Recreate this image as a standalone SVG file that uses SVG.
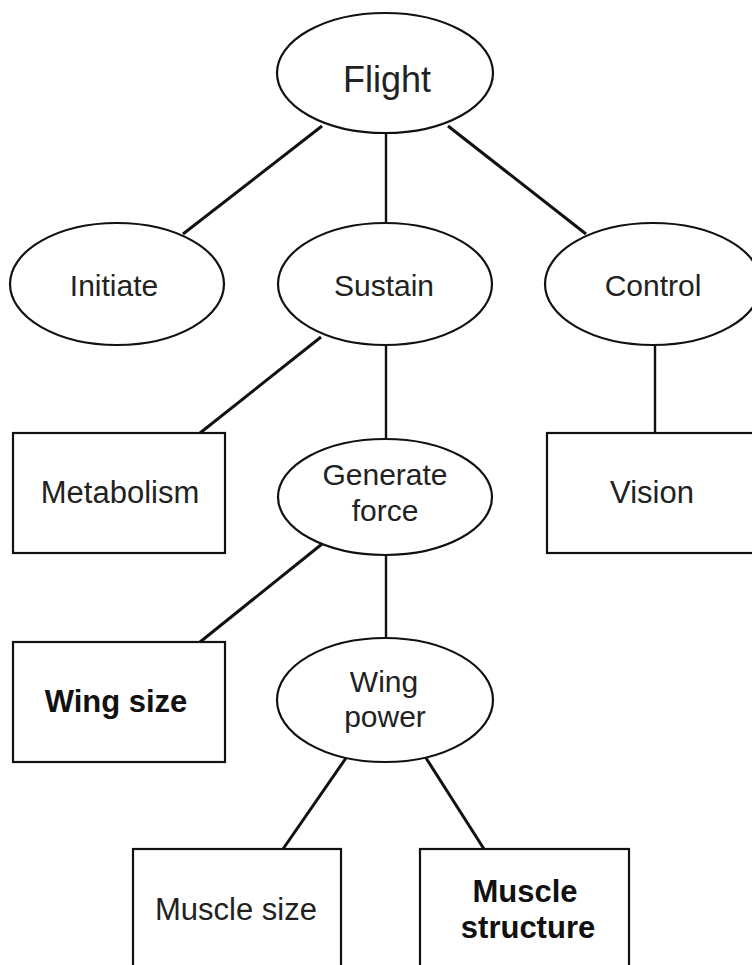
<svg xmlns="http://www.w3.org/2000/svg" width="752" height="965" viewBox="0 0 752 965">
<style>
.n{fill:#fff;stroke:#111;stroke-width:2.2}
.t{font-family:"Liberation Sans",Arial,Helvetica,sans-serif;font-size:30px;fill:#222;text-anchor:middle}
.x{font-size:31px}
.b{font-weight:bold;fill:#111}
.e{stroke:#111;stroke-width:3;fill:none}
.v{stroke:#111;stroke-width:2.4;fill:none}
</style>
<rect width="752" height="965" fill="#fff"/>
<g id="connectors">
<line class="e" x1="322" y1="126" x2="183" y2="234"/>
<line class="e" x1="448" y1="126" x2="586" y2="234"/>
<line class="v" x1="386" y1="133" x2="386" y2="223"/>
<line class="e" x1="321" y1="337" x2="200" y2="433"/>
<line class="v" x1="386" y1="345" x2="386" y2="440"/>
<line class="v" x1="655" y1="345" x2="655" y2="433"/>
<line class="e" x1="322" y1="544" x2="200" y2="642"/>
<line class="v" x1="386" y1="555" x2="386" y2="638"/>
<line class="e" x1="346" y1="758" x2="283" y2="849"/>
<line class="e" x1="426" y1="758" x2="484" y2="849"/>
</g>
<g id="flight"><ellipse class="n" cx="385" cy="73" rx="108" ry="60"/><text class="t" x="387" y="92" style="font-size:36px">Flight</text></g>
<g id="initiate"><ellipse class="n" cx="117" cy="284" rx="107" ry="61"/><text class="t" x="114" y="296">Initiate</text></g>
<g id="sustain"><ellipse class="n" cx="385" cy="284" rx="107" ry="61"/><text class="t" x="384" y="296">Sustain</text></g>
<g id="control"><ellipse class="n" cx="653" cy="284" rx="108" ry="61"/><text class="t" x="653" y="296">Control</text></g>
<g id="metabolism"><rect class="n" x="13" y="433" width="212" height="120"/><text class="t x" x="120" y="503">Metabolism</text></g>
<g id="generate"><ellipse class="n" cx="385" cy="497" rx="107" ry="58"/><text class="t" x="385" y="485">Generate</text><text class="t" x="385" y="521">force</text></g>
<g id="vision"><rect class="n" x="547" y="433" width="212" height="120"/><text class="t x" x="652" y="503">Vision</text></g>
<g id="wingsize"><rect class="n" x="13" y="642" width="212" height="120"/><text class="t b x" x="116" y="712">Wing size</text></g>
<g id="wingpower"><ellipse class="n" cx="385" cy="700" rx="108" ry="62"/><text class="t" x="384" y="692">Wing</text><text class="t" x="385" y="727">power</text></g>
<g id="musclesize"><rect class="n" x="133" y="849" width="208" height="125"/><text class="t x" x="236" y="920">Muscle size</text></g>
<g id="musclestructure"><rect class="n" x="420" y="849" width="209" height="125"/><text class="t b x" x="525" y="902">Muscle</text><text class="t b x" x="528" y="938">structure</text></g>
</svg>
